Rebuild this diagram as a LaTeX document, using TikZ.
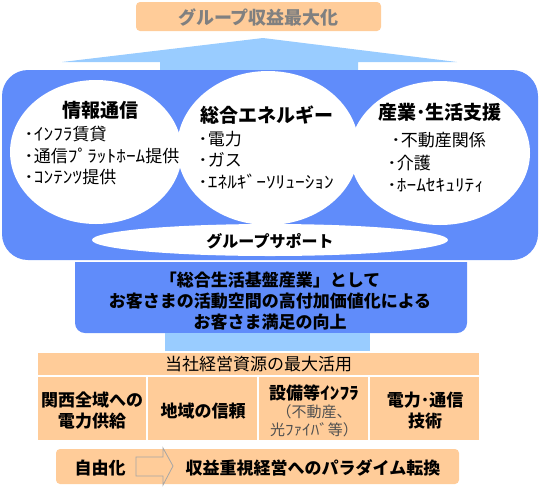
\documentclass[tikz,border=0pt]{standalone}
\usepackage{fontspec}
\usepackage{graphicx}
\setmainfont{Noto Sans CJK JP}
\definecolor{mainblue}{RGB}{96,140,250}
\definecolor{lightblue}{RGB}{153,204,255}
\definecolor{peach}{RGB}{255,204,153}
\definecolor{titlegray}{RGB}{128,128,128}
\definecolor{subgray}{RGB}{80,80,80}
\newcommand\hwk[1]{\scalebox{1.14}[1]{#1}}
\tikzset{
  txt/.style={inner sep=0pt, font=\fontsize{17}{21}\selectfont},
  btxt/.style={inner sep=0pt, font=\fontsize{17}{21}\selectfont\bfseries},
  ttl/.style={inner sep=0pt, font=\fontsize{19}{23}\selectfont\bfseries},
  item/.style={inner sep=0pt, anchor=west, font=\fontsize{17}{21}\selectfont},
  cell/.style={fill=peach, draw=white, line width=1.5pt},
}
\begin{document}
\begin{tikzpicture}[x=1pt,y=-1pt]
\useasboundingbox (0,0) rectangle (540,488);
% top box
\fill[peach, rounded corners=4pt] (136,2) rectangle (381,31);
\node[inner sep=0pt, text=titlegray, font=\fontsize{18}{22}\selectfont\bfseries] (top) at (258.5,17) {グループ収益最大化};
% chevron
\fill[lightblue] (62,62) -- (263,38) -- (457,62) -- (358,62) -- (358,71) -- (160,71) -- (160,62) -- cycle;
% main blue box
\fill[mainblue, rounded corners=26pt] (2,70) rectangle (538,260);
% ellipses
\fill[white] (96,152) ellipse [x radius=86pt, y radius=72pt];
\fill[white] (268,148) ellipse [x radius=91pt, y radius=77pt];
\fill[white] (440,153) ellipse [x radius=90pt, y radius=72pt];
\fill[white] (270,240) ellipse [x radius=178pt, y radius=16pt];
% left
\node[ttl] (t1) at (100,110) {情報通信};
\node[item] (i11) at (24,134) {\hwk{･ｲﾝﾌﾗ}賃貸};
\node[item] (i12) at (24,156) {\hwk{･}通信\hwk{ﾌﾟﾗｯﾄﾎｰﾑ}提供};
\node[item] (i13) at (24,177) {\hwk{･ｺﾝﾃﾝﾂ}提供};
% middle
\node[ttl] (t2) at (267,115) {総合エネルギー};
\node[item] (i21) at (198,139) {\hwk{･}電力};
\node[item] (i22) at (198,160) {\hwk{･}ガス};
\node[item] (i23) at (198,182) {\hwk{･ｴﾈﾙｷﾞｰｿﾘｭｰｼｮﾝ}};
% right
\node[ttl] (t3) at (440,112) {産業･生活支援};
\node[item] (i31) at (391,140) {\hwk{･}不動産関係};
\node[item] (i32) at (387,163) {\hwk{･}介護};
\node[item] (i33) at (387,185) {\hwk{･ﾎｰﾑｾｷｭﾘﾃｨ}};
% group support
\node[inner sep=0pt, font=\fontsize{16}{20}\selectfont\bfseries] (gs) at (270,241) {グループサポート};
% middle box
\fill[mainblue] (75,262) -- (467,262) -- (467,323) arc[start angle=0, end angle=90, x radius=10pt, y radius=-10pt] -- (85,333) arc[start angle=90, end angle=180, x radius=10pt, y radius=-10pt] -- cycle;
\node[btxt] (m1) at (270,280) {「総合生活基盤産業」として};
\node[btxt] (m2) at (270,301) {お客さまの活動空間の高付加価値化による};
\node[btxt] (m3) at (270,322) {お客さま満足の向上};
% stem
\fill[lightblue] (165,333) rectangle (370,352);
% table
\draw[cell] (37,352) rectangle (480,376);
\node[txt] (h) at (258.5,364) {当社経営資源の最大活用};
\draw[cell] (37,376) rectangle (147,441);
\draw[cell] (147,376) rectangle (258,441);
\draw[cell] (258,376) rectangle (369,441);
\draw[cell] (369,376) rectangle (480,441);
\node[btxt, align=center] (c1) at (92,411) {関西全域への\\電力供給};
\node[btxt] (c2) at (203,411) {地域の信頼};
\node[btxt] (c3a) at (314,393) {設備等\hwk{ｲﾝﾌﾗ}};
\node[txt, text=subgray, font=\fontsize{15}{19}\selectfont] (c3b) at (314,412) {（不動産、};
\node[txt, text=subgray, font=\fontsize{15}{19}\selectfont] (c3c) at (314,430) {光\hwk{ﾌｧｲﾊﾞ}等）};
\node[btxt, align=center] (c4) at (425,411) {電力･通信\\技術};
% bottom box
\fill[peach, rounded corners=4pt] (56,449) rectangle (459,484);
\draw[gray!70, line width=0.8pt] (136,457) -- (163,457) -- (163,448) -- (173,466) -- (163,485) -- (163,476) -- (136,476) -- cycle;
\node[btxt] (b1) at (100,468) {自由化};
\node[btxt] (b2) at (313,468) {収益重視経営へのパラダイム転換};
\end{tikzpicture}
\end{document}
